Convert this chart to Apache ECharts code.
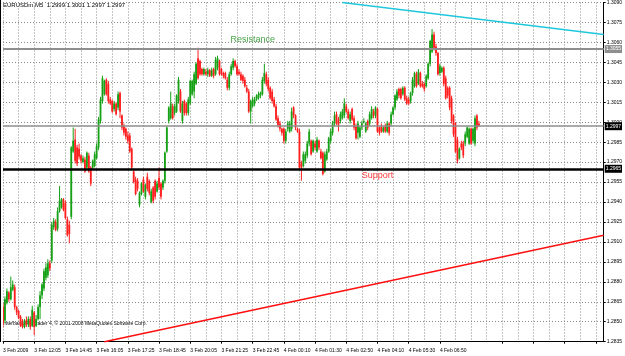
<!DOCTYPE html>
<html><head><meta charset="utf-8">
<script src="https://cdn.jsdelivr.net/npm/echarts@6/dist/echarts.min.js"></script>
<style>html,body{margin:0;padding:0;background:#fff}#c{width:625px;height:356px}</style>
</head><body><div id="c"></div>
<script>
const symbolName = 'EURUSDm,M5';
const timeTicks = ['3 Feb 2009','3 Feb 12:05','3 Feb 14:45','3 Feb 16:05','3 Feb 17:25','3 Feb 18:45','3 Feb 20:05','3 Feb 21:25','3 Feb 22:45','4 Feb 00:10','4 Feb 01:30','4 Feb 02:50','4 Feb 04:10','4 Feb 05:30','4 Feb 06:50','4 Feb 08:10'];
const barsPerTick = 16;
const slotCount = 309; // bars + empty right shift
const priceMin = 1.2835, priceMax = 1.3090, priceStep = 0.0015;
const resistanceLevel = 1.3055;
const supportLevel = 1.2965;
const bidLevel = 1.2997;
const cyanTrend = [[174, 1.3090], [308, 1.3066]];
const redTrend = [[52, 1.2835], [308, 1.2915]];
const notes = [['Resistance', 128, 1.3062, '#168a16'], ['Support', 192, 1.2960, '#ff0000']];
const copyright = 'Interbank FX Trader 4, \u00a9 2001-2008 MetaQuotes Software Corp.';
// [open, close, low, high]
const candles = [
[1.2861,1.2849,1.2846,1.2864],[1.2851,1.2867,1.2849,1.2869],[1.2864,1.2873,1.2863,1.2875],[1.2872,1.2867,1.2865,1.2873],[1.2867,1.2876,1.2866,1.2884],
[1.2874,1.2878,1.2873,1.2881],[1.2876,1.2861,1.2859,1.2878],[1.2861,1.2857,1.2855,1.2862],[1.2858,1.2853,1.2852,1.2859],[1.2854,1.2847,1.2846,1.2855],
[1.2849,1.2846,1.2845,1.2852],[1.2846,1.2851,1.2845,1.2852],[1.2851,1.2848,1.2846,1.2854],[1.2848,1.2852,1.2846,1.2854],[1.2852,1.2846,1.2844,1.2854],
[1.2847,1.2859,1.2846,1.2862],[1.2857,1.2846,1.2840,1.2858],[1.2847,1.2852,1.2846,1.2855],[1.2852,1.2861,1.2851,1.2863],[1.2861,1.2870,1.2852,1.2873],
[1.2870,1.2878,1.2867,1.2879],[1.2875,1.2888,1.2873,1.2890],[1.2883,1.2891,1.2881,1.2894],[1.2885,1.2894,1.2883,1.2897],[1.2894,1.2890,1.2888,1.2896],
[1.2896,1.2923,1.2894,1.2925],[1.2921,1.2926,1.2919,1.2928],[1.2925,1.2919,1.2918,1.2927],[1.2920,1.2933,1.2918,1.2936],[1.2933,1.2941,1.2932,1.2952],
[1.2936,1.2942,1.2935,1.2943],[1.2942,1.2934,1.2933,1.2943],[1.2939,1.2928,1.2927,1.2941],[1.2927,1.2915,1.2914,1.2929],[1.2923,1.2916,1.2909,1.2926],
[1.2929,1.2981,1.2927,1.2982],[1.2978,1.2986,1.2977,1.2996],[1.2987,1.2971,1.2969,1.2995],[1.2981,1.2969,1.2967,1.2983],[1.2980,1.2974,1.2972,1.2984],
[1.2975,1.2971,1.2969,1.2976],[1.2970,1.2973,1.2969,1.2975],[1.2972,1.2963,1.2962,1.2974],[1.2966,1.2977,1.2964,1.2978],[1.2975,1.2963,1.2962,1.2977],
[1.2966,1.2954,1.2952,1.2967],[1.2966,1.2971,1.2964,1.2972],[1.2967,1.2976,1.2966,1.2978],[1.2973,1.2982,1.2972,1.2984],[1.2981,1.3002,1.2979,1.3004],
[1.3001,1.3017,1.2999,1.3019],[1.3016,1.3033,1.3014,1.3035],[1.3021,1.3031,1.3020,1.3032],[1.3032,1.3021,1.3020,1.3033],[1.3029,1.3016,1.3014,1.3031],
[1.3017,1.3014,1.3013,1.3019],[1.3016,1.3008,1.3007,1.3017],[1.3010,1.3014,1.3008,1.3016],[1.3014,1.3006,1.3005,1.3015],[1.3011,1.3021,1.3009,1.3023],
[1.3022,1.3008,1.3003,1.3023],[1.3005,1.2996,1.2994,1.3006],[1.2997,1.2992,1.2990,1.2999],[1.2995,1.2989,1.2987,1.2996],[1.2990,1.2986,1.2984,1.2993],
[1.2990,1.2978,1.2977,1.2992],[1.2980,1.2966,1.2964,1.2981],[1.2963,1.2955,1.2954,1.2965],[1.2957,1.2946,1.2945,1.2959],[1.2956,1.2950,1.2948,1.2958],
[1.2938,1.2947,1.2936,1.2948],[1.2946,1.2954,1.2945,1.2955],[1.2957,1.2948,1.2947,1.2959],[1.2944,1.2953,1.2942,1.2954],[1.2959,1.2950,1.2948,1.2962],
[1.2956,1.2947,1.2945,1.2957],[1.2940,1.2948,1.2939,1.2950],[1.2951,1.2941,1.2939,1.2952],[1.2956,1.2944,1.2942,1.2957],[1.2948,1.2954,1.2947,1.2956],
[1.2958,1.2951,1.2949,1.2966],[1.2954,1.2944,1.2942,1.2955],[1.2951,1.2956,1.2949,1.2957],[1.2956,1.2977,1.2954,1.2978],[1.2978,1.2996,1.2977,1.2997],
[1.3001,1.3011,1.2999,1.3012],[1.3003,1.3014,1.3002,1.3023],[1.3012,1.3003,1.3002,1.3014],[1.3007,1.3012,1.3005,1.3014],[1.3008,1.3020,1.3007,1.3021],
[1.3016,1.3032,1.3014,1.3034],[1.3023,1.3008,1.3007,1.3025],[1.3001,1.3014,1.2999,1.3016],[1.3016,1.3007,1.3005,1.3017],[1.3014,1.3007,1.3005,1.3015],
[1.3007,1.3017,1.3005,1.3019],[1.3014,1.3031,1.3013,1.3032],[1.3021,1.3031,1.3020,1.3032],[1.3023,1.3036,1.3018,1.3038],[1.3029,1.3044,1.3028,1.3045],
[1.3048,1.3033,1.3032,1.3056],[1.3046,1.3036,1.3035,1.3047],[1.3040,1.3036,1.3035,1.3041],[1.3036,1.3040,1.3035,1.3041],[1.3038,1.3036,1.3035,1.3040],
[1.3036,1.3039,1.3034,1.3041],[1.3039,1.3035,1.3034,1.3040],[1.3035,1.3039,1.3034,1.3041],[1.3040,1.3035,1.3033,1.3041],[1.3036,1.3047,1.3035,1.3049],
[1.3041,1.3048,1.3039,1.3050],[1.3046,1.3036,1.3035,1.3047],[1.3040,1.3036,1.3035,1.3041],[1.3037,1.3035,1.3033,1.3038],[1.3037,1.3033,1.3032,1.3038],
[1.3032,1.3026,1.3024,1.3034],[1.3026,1.3036,1.3024,1.3038],[1.3036,1.3042,1.3035,1.3044],[1.3041,1.3046,1.3039,1.3048],[1.3046,1.3042,1.3041,1.3047],
[1.3042,1.3036,1.3035,1.3044],[1.3038,1.3036,1.3035,1.3040],[1.3036,1.3032,1.3031,1.3038],[1.3035,1.3031,1.3029,1.3036],[1.3032,1.3027,1.3026,1.3034],
[1.3026,1.3023,1.3022,1.3028],[1.3023,1.3008,1.3007,1.3025],[1.3008,1.3016,1.2999,1.3017],[1.3012,1.3017,1.3011,1.3019],[1.3014,1.3017,1.3012,1.3019],
[1.3017,1.3020,1.3016,1.3021],[1.3018,1.3021,1.3017,1.3023],[1.3020,1.3022,1.3018,1.3023],[1.3021,1.3032,1.3020,1.3034],[1.3031,1.3037,1.3029,1.3044],
[1.3036,1.3029,1.3027,1.3038],[1.3032,1.3025,1.3023,1.3034],[1.3026,1.3018,1.3017,1.3027],[1.3023,1.3016,1.3014,1.3025],[1.3017,1.3012,1.3011,1.3019],
[1.3012,1.3002,1.3001,1.3014],[1.3003,1.2998,1.2996,1.3005],[1.2999,1.2995,1.2993,1.3001],[1.2995,1.2992,1.2990,1.2996],[1.2995,1.2986,1.2984,1.2996],
[1.2986,1.2993,1.2984,1.2995],[1.2995,1.2999,1.2993,1.3001],[1.2993,1.2999,1.2992,1.3001],[1.2995,1.3008,1.2993,1.3011],[1.3011,1.3005,1.3003,1.3012],
[1.3005,1.2996,1.2994,1.3006],[1.2995,1.2993,1.2992,1.2996],[1.2993,1.2966,1.2964,1.2995],[1.2969,1.2966,1.2956,1.2971],[1.2967,1.2976,1.2966,1.2978],
[1.2971,1.2976,1.2969,1.2978],[1.2975,1.2984,1.2973,1.2986],[1.2984,1.2993,1.2982,1.2995],[1.2986,1.2976,1.2975,1.2987],[1.2978,1.2986,1.2977,1.2987],
[1.2984,1.2981,1.2979,1.2986],[1.2978,1.2987,1.2977,1.2989],[1.2986,1.2981,1.2979,1.2987],[1.2978,1.2973,1.2972,1.2980],[1.2977,1.2961,1.2960,1.2978],
[1.2963,1.2976,1.2962,1.2978],[1.2972,1.2978,1.2971,1.2980],[1.2978,1.2988,1.2977,1.2989],[1.2986,1.2993,1.2984,1.2995],[1.2992,1.2999,1.2990,1.3001],
[1.2999,1.3005,1.2997,1.3008],[1.3006,1.2999,1.2998,1.3008],[1.3002,1.2997,1.2993,1.3004],[1.3001,1.3006,1.2999,1.3008],[1.3003,1.3008,1.3002,1.3010],
[1.3005,1.3014,1.3003,1.3018],[1.3012,1.3008,1.3007,1.3014],[1.3008,1.3003,1.3002,1.3010],[1.3001,1.3006,1.2999,1.3008],[1.3010,1.3002,1.3001,1.3011],
[1.3003,1.2996,1.2994,1.3005],[1.2997,1.2988,1.2987,1.2999],[1.2992,1.2999,1.2987,1.3001],[1.2989,1.2996,1.2988,1.2997],[1.2996,1.2999,1.2994,1.3001],
[1.3000,1.3001,1.2999,1.3003],[1.2993,1.2999,1.2992,1.3000],[1.3001,1.2996,1.2994,1.3002],[1.2999,1.3006,1.2997,1.3008],[1.3003,1.3010,1.3002,1.3012],
[1.3008,1.3005,1.3003,1.3010],[1.3005,1.3011,1.3003,1.3012],[1.3010,1.2993,1.2992,1.3011],[1.2996,1.2992,1.2990,1.2997],[1.2997,1.2993,1.2992,1.2999],
[1.2993,1.2996,1.2992,1.2997],[1.2997,1.2993,1.2992,1.2999],[1.2993,1.2999,1.2992,1.3001],[1.2999,1.2992,1.2990,1.3000],[1.2999,1.3006,1.2997,1.3008],
[1.3006,1.3011,1.3005,1.3012],[1.3011,1.3020,1.3009,1.3021],[1.3017,1.3023,1.3016,1.3025],[1.3025,1.3020,1.3018,1.3026],[1.3025,1.3018,1.3017,1.3026],
[1.3021,1.3026,1.3020,1.3027],[1.3026,1.3017,1.3016,1.3027],[1.3018,1.3014,1.3013,1.3020],[1.3017,1.3014,1.3013,1.3019],[1.3016,1.3022,1.3014,1.3023],
[1.3022,1.3032,1.3020,1.3034],[1.3027,1.3037,1.3026,1.3038],[1.3036,1.3027,1.3026,1.3038],[1.3029,1.3038,1.3028,1.3040],[1.3037,1.3027,1.3026,1.3038],
[1.3029,1.3027,1.3026,1.3031],[1.3029,1.3025,1.3023,1.3030],[1.3027,1.3035,1.3026,1.3036],[1.3033,1.3044,1.3032,1.3045],[1.3044,1.3061,1.3042,1.3062],
[1.3053,1.3066,1.3052,1.3070],[1.3066,1.3056,1.3054,1.3068],[1.3057,1.3052,1.3050,1.3059],[1.3052,1.3036,1.3035,1.3053],[1.3037,1.3042,1.3035,1.3044],
[1.3038,1.3041,1.3037,1.3042],[1.3041,1.3029,1.3027,1.3042],[1.3033,1.3018,1.3017,1.3035],[1.3026,1.3020,1.3018,1.3027],[1.3026,1.3011,1.3009,1.3027],
[1.3018,1.3001,1.2999,1.3020],[1.3005,1.2991,1.2989,1.3006],[1.2999,1.2978,1.2977,1.3000],[1.2987,1.2971,1.2969,1.2989],[1.2973,1.2980,1.2972,1.2981],
[1.2984,1.2981,1.2979,1.2986],[1.2984,1.2975,1.2973,1.2986],[1.2984,1.2991,1.2982,1.2993],[1.2989,1.2996,1.2988,1.2997],[1.2984,1.2995,1.2983,1.2996],
[1.2995,1.2984,1.2983,1.2996],[1.2986,1.2995,1.2984,1.2996],[1.2984,1.3003,1.2982,1.3005],[1.3005,1.2996,1.2994,1.3006],[1.2999,1.2997,1.2997,1.3001]
];

const categories = Array.from({length: slotCount}, (_, i) => String(i));
const last = candles[candles.length - 1];
const titleText = symbolName + '  ' + [last[0], last[3], last[2], last[1]].map(v => v.toFixed(4)).join(' ');
const FONT = 'Liberation Sans';
const UP = '#15a015', DOWN = '#ff1e1e';

function levelLine(v, lineColor, width, boxBg, boxFg) {
  return [
    {coord: [0, v], lineStyle: {color: lineColor, width: width, type: 'solid'},
     label: {show: true, position: 'end', distance: 1, formatter: v.toFixed(4),
       backgroundColor: boxBg, color: boxFg, fontSize: 5, fontFamily: FONT, padding: [2, 1, 1, 1]}},
    {coord: [slotCount - 1, v]}
  ];
}
function trend(pts, color) {
  return [{coord: pts[0], lineStyle: {color: color, width: 1.6, type: 'solid'}, label: {show: false}}, {coord: pts[1]}];
}

function renderCandle(params, api) {
  const i = api.value(0), o = api.value(1), c = api.value(2), l = api.value(3), h = api.value(4);
  const pO = api.coord([i, o]), pC = api.coord([i, c]), pL = api.coord([i, l]), pH = api.coord([i, h]);
  const x = pO[0];
  const col = c >= o ? UP : DOWN;
  const top = Math.min(pO[1], pC[1]);
  const bh = Math.max(Math.abs(pO[1] - pC[1]), 1);
  return {type: 'group', children: [
    {type: 'line', shape: {x1: x, y1: pH[1], x2: x, y2: pL[1]}, style: {stroke: col, lineWidth: 1}},
    {type: 'rect', shape: {x: x - 0.9, y: top, width: 1.8, height: bh}, style: {fill: col}}
  ]};
}

const chart = echarts.init(document.getElementById('c'), null, {renderer: 'canvas'});
chart.setOption({
  animation: false,
  backgroundColor: '#ffffff',
  grid: {left: 2, right: 18.5, top: 1.7, bottom: 14.3, show: false},
  xAxis: {
    type: 'category', data: categories, boundaryGap: false,
    axisLine: {show: true, onZero: false, lineStyle: {color: '#000', width: 1}},
    axisTick: {show: true, length: 2, interval: (i) => i % barsPerTick === 0, lineStyle: {color: '#000'}},
    axisLabel: {show: true, interval: (i) => i % barsPerTick === 0 && i / barsPerTick < timeTicks.length,
      formatter: (v, i) => timeTicks[i / barsPerTick] || '', align: 'left', fontSize: 5, fontFamily: FONT, color: '#000', margin: 6, showMaxLabel: false},
    splitLine: {show: true, interval: (i) => i % (barsPerTick / 2) === 0, lineStyle: {color: '#8a8a8a', width: 1, type: [1, 2]}}
  },
  yAxis: {
    type: 'value', position: 'right', min: priceMin, max: priceMax, interval: priceStep, scale: true,
    axisLine: {show: true, lineStyle: {color: '#000', width: 1}},
    axisTick: {show: true, length: 2, lineStyle: {color: '#000'}},
    axisLabel: {show: true, formatter: (v) => v.toFixed(4), fontSize: 5, fontFamily: FONT, color: '#000', margin: 3},
    splitLine: {show: true, lineStyle: {color: '#8a8a8a', width: 1, type: [1, 2]}}
  },
  series: [
    {
      type: 'custom', renderItem: renderCandle, clip: true,
      data: candles.map((d, i) => [i, d[0], d[1], d[2], d[3]]),
      encode: {x: 0, y: [1, 2, 3, 4]},
      markLine: {
        silent: true, symbol: ['none', 'none'], animation: false,
        data: [
          levelLine(resistanceLevel, '#8e8e8e', 2.2, '#8e8e8e', '#ffffff'),
          levelLine(bidLevel, '#8e8e8e', 1.6, '#000000', '#ffffff'),
          levelLine(supportLevel, '#000000', 2.6, '#000000', '#ffffff'),
          trend(cyanTrend, '#1ec8dc'),
          trend(redTrend, '#ff1010')
        ]
      }
    },
    {
      type: 'scatter', symbolSize: 0, silent: true,
      data: notes.map(n => ({value: [n[1], n[2]], name: n[0],
        label: {show: true, position: 'inside', formatter: n[0], color: n[3], fontSize: 9, fontFamily: FONT}}))
    }
  ],
  graphic: [
    {type: 'text', left: 3, top: 2, style: {text: titleText, fontSize: 6, fontFamily: FONT, fill: '#000'}},
    {type: 'text', left: 3, top: 321, style: {text: copyright, fontSize: 5, fontFamily: FONT, fill: '#000'}},
    {type: 'line', shape: {x1: 0.5, y1: 0, x2: 0.5, y2: 342}, style: {stroke: '#000', lineWidth: 1}}
  ]
});
</script></body></html>
